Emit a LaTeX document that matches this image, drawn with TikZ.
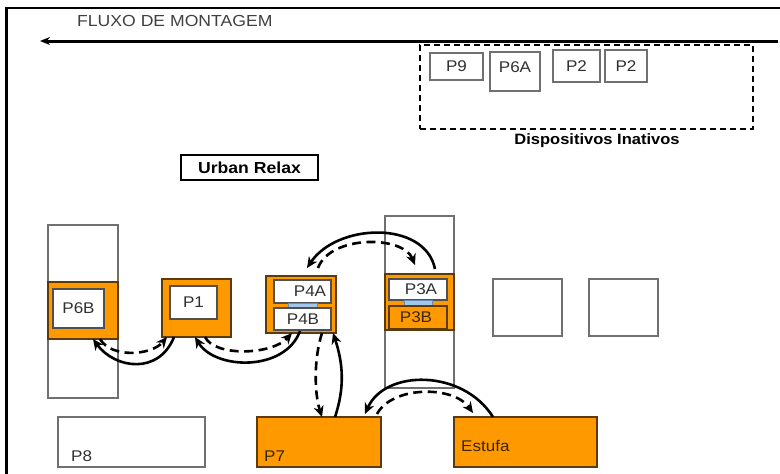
\documentclass[tikz,border=0pt]{standalone}
\usepackage{fontspec}
\setmainfont{Liberation Sans}[FakeStretch=1.1]
\usetikzlibrary{arrows.meta}

\definecolor{orng}{HTML}{FF9900}
\definecolor{orngedge}{HTML}{5C3A0A}
\definecolor{boxgray}{HTML}{707070}
\definecolor{innergray}{HTML}{505050}
\definecolor{txtgray}{HTML}{303030}
\definecolor{txtbrown}{HTML}{3A2500}
\definecolor{lblue}{HTML}{A3C8EE}
\definecolor{lblueedge}{HTML}{6A8DB5}

\begin{document}
\begin{tikzpicture}[x=1pt,y=-1pt,
  base/.style={inner sep=0pt, outer sep=0pt, anchor=north west,
    font=\fontsize{15.5}{18}\selectfont, text=txtgray},
  whitebox/.style={base, draw=boxgray, line width=1.2pt, fill=white},
  orangebox/.style={base, draw=orngedge, line width=1.1pt, fill=orng, text=txtbrown},
  innerbox/.style={base, draw=innergray, line width=1.2pt, fill=white},
  bluebar/.style={base, draw=lblueedge, line width=0.8pt, fill=lblue},
  lbl/.style={inner sep=0pt, font=\fontsize{15.5}{18}\selectfont, text=txtgray},
  flow/.style={line width=2.6pt, -{Stealth[length=11pt,width=10pt]}},
  flowdash/.style={flow, dash pattern=on 9pt off 5.5pt},
]
\useasboundingbox (0,0) rectangle (780,474);

% frame
\draw[line width=2.4pt] (6.5,474) |- (780,8);

% assembly flow direction
\node[lbl, anchor=base west, font=\fontsize{16}{18}\selectfont, text=black!75] (fluxo) at (77,26) {FLUXO DE MONTAGEM};
\coordinate (flowR) at (778,41);
\coordinate (flowL) at (40,41);
\draw[line width=3pt, -{Stealth[length=10pt,width=8pt]}] (flowR) -- (flowL);

% inactive fixtures
\node[base, draw=black, line width=1.3pt, dash pattern=on 6pt off 4pt,
  minimum width=333pt, minimum height=84pt] (inact) at (420,45) {};
\node[lbl, font=\bfseries\fontsize{15}{18}\selectfont, text=black] (inacttxt) at (597,141) {Dispositivos Inativos};
\node[whitebox, minimum width=53pt, minimum height=27pt] (p9) at (430,53) {P9};
\node[whitebox, minimum width=50pt, minimum height=39pt] (p6a) at (490,52) {};
\node[lbl] (p6atxt) at (515,67) {P6A};
\node[whitebox, minimum width=47pt, minimum height=32pt] (p2a) at (553,50) {P2};
\node[whitebox, minimum width=42pt, minimum height=32pt] (p2b) at (605,50) {P2};

% line title
\node[base, draw=black, line width=1.4pt, fill=white, text=black,
  font=\bfseries\fontsize{16}{18}\selectfont,
  minimum width=137pt, minimum height=25pt] (urban) at (181,155) {Urban Relax};

% station P6B
\node[whitebox, minimum width=70pt, minimum height=173pt] (col6) at (48,225) {};
\node[orangebox, minimum width=70pt, minimum height=57pt] (p6b) at (48,282) {};
\node[innerbox, minimum width=51pt, minimum height=39pt] (p6bin) at (53,289) {P6B};

% station P1
\node[orangebox, minimum width=69pt, minimum height=58pt] (p1) at (162,279) {};
\node[innerbox, minimum width=47pt, minimum height=33pt] (p1in) at (170,286) {P1};

% station P4A / P4B
\node[orangebox, minimum width=70pt, minimum height=57pt] (p4) at (266,276) {};
\node[innerbox, minimum width=57pt, minimum height=23pt] (p4a) at (274,280) {};
\node[bluebar, minimum width=29pt, minimum height=5pt] (p4bar) at (288,303) {};
\node[innerbox, minimum width=57pt, minimum height=22pt] (p4b) at (274,308) {};
\node[lbl] (p4atxt) at (310,291.5) {P4A};
\node[lbl] (p4btxt) at (303,319) {P4B};

% station P3A / P3B
\node[whitebox, minimum width=69pt, minimum height=172pt] (col3) at (385,216) {};
\node[orangebox, minimum width=69pt, minimum height=56pt] (p3) at (385,274) {};
\node[innerbox, minimum width=58pt, minimum height=21pt] (p3a) at (389,279) {};
\node[bluebar, minimum width=28pt, minimum height=6pt] (p3bar) at (404,300) {};
\node[orangebox, minimum width=58pt, minimum height=23pt] (p3b) at (389,306) {};
\node[lbl] (p3atxt) at (421,289.5) {P3A};
\node[lbl, text=txtbrown] (p3btxt) at (416,317.5) {P3B};

% empty positions
\node[whitebox, minimum width=69pt, minimum height=57pt] (e1) at (493,279) {};
\node[whitebox, minimum width=69pt, minimum height=57pt] (e2) at (589,279) {};

% bottom row
\node[whitebox, minimum width=147pt, minimum height=50pt] (p8) at (58,417) {};
\node[lbl, anchor=base west] (p8txt) at (71,461) {P8};
\node[orangebox, minimum width=124pt, minimum height=50pt] (p7) at (257,417) {};
\node[lbl, anchor=base west, text=txtbrown] (p7txt) at (264,461) {P7};
\node[orangebox, minimum width=143pt, minimum height=50pt] (est) at (454,417) {};
\node[lbl, anchor=base west, text=txtbrown] (esttxt) at (461,451) {Estufa};

% material flow between stations
\draw[flow] ([xshift=12pt]p1.south west) .. controls +(-15,38) and +(22,30) .. ([xshift=45pt]p6b.south west);
\draw[flowdash] ([xshift=52pt]p6b.south west) .. controls +(12,20) and +(-15,18) .. ([xshift=5pt]p1.south west);

\draw[flow] ([xshift=34pt,yshift=2pt]p4.south west) .. controls +(-15,41) and +(20,33) .. ([xshift=33pt]p1.south west);
\draw[flowdash] ([xshift=43pt]p1.south west) .. controls +(10,20) and +(-20,22) .. ([xshift=26pt]p4.south west);

\draw[flow] ([xshift=50pt,yshift=5pt]p3.north west) .. controls +(-10,-49) and +(30,-45) .. ([xshift=41pt,yshift=8pt]p4.north west);
\draw[flowdash] ([xshift=52pt,yshift=8pt]p4.north west) .. controls +(12,-33) and +(-12,-30) .. ([xshift=30pt,yshift=9pt]p3.north west);

\draw[flowdash] ([xshift=56pt]p4.south west) .. controls +(-8,25) and +(-8,-25) .. ([xshift=65pt]p7.north west);
\draw[flow] ([xshift=78pt]p7.north west) .. controls +(10,-30) and +(10,30) .. ([xshift=67pt]p4.south west);

\draw[flow] ([xshift=39pt]est.north west) .. controls +(-30,-48) and +(20,-45) .. ([xshift=108pt,yshift=3pt]p7.north west);
\draw[flowdash] ([xshift=120pt,yshift=3pt]p7.north west) .. controls +(15,-28) and +(-20,-28) .. ([xshift=19pt,yshift=4pt]est.north west);

\end{tikzpicture}
\end{document}
